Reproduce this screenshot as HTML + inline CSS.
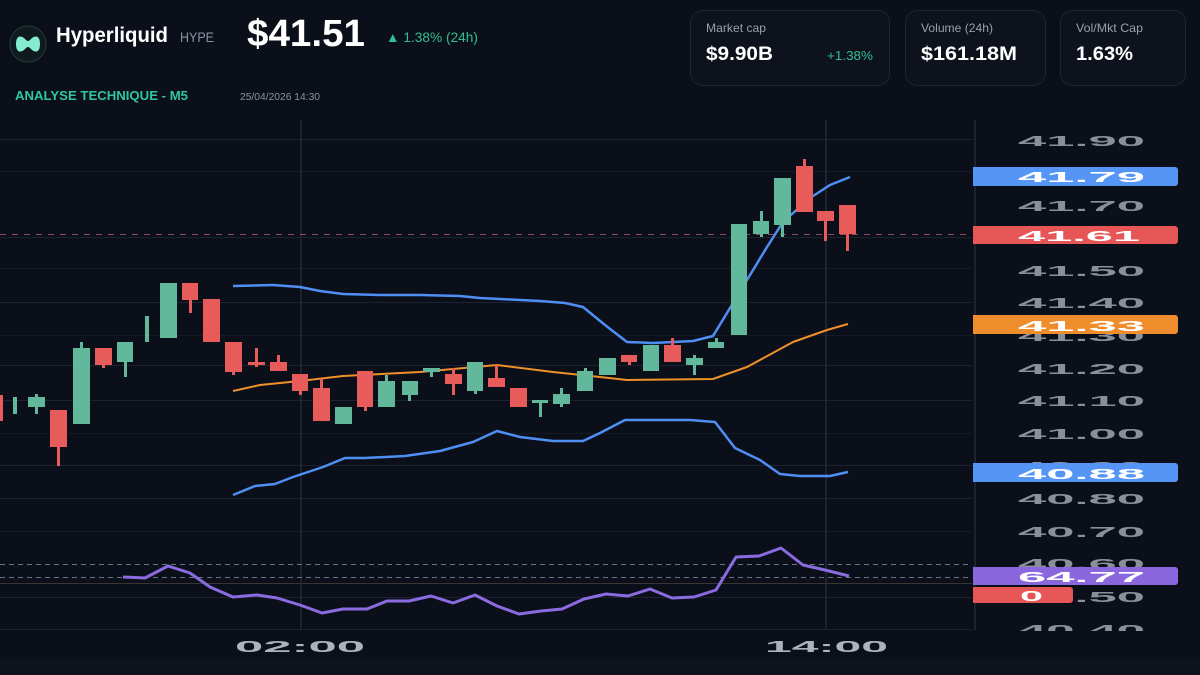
<!DOCTYPE html>
<html><head><meta charset="utf-8"><style>
html,body{margin:0;padding:0;background:#0b0f19;}
svg{display:block;}
text{font-family:"Liberation Sans",sans-serif;}
</style></head><body>
<svg width="1200" height="675" viewBox="0 0 1200 675" xmlns="http://www.w3.org/2000/svg">
<rect width="1200" height="675" fill="#0b0f19"/>
<rect y="658" width="1200" height="17" fill="#0d121c"/>

<!-- Header -->
<circle cx="28" cy="44" r="18" fill="#0e1a1e" stroke="#23403a" stroke-width="1"/>
<path d="M16 44 C16 36 20 35 24 38 C26 40 27 41 28 41 C29 41 30 40 32 38 C36 35 40 36 40 44 C40 52 36 53 32 50 C30 48 29 47 28 47 C27 47 26 48 24 50 C20 53 16 52 16 44 Z" fill="#86ecd0"/>
<text x="56" y="42" font-size="21" font-weight="bold" fill="#ffffff" textLength="112" lengthAdjust="spacingAndGlyphs">Hyperliquid</text>
<text x="180" y="42" font-size="13.5" fill="#8b93a1" textLength="34" lengthAdjust="spacingAndGlyphs">HYPE</text>
<text x="247" y="46" font-size="38" font-weight="bold" fill="#ffffff" textLength="118" lengthAdjust="spacingAndGlyphs">$41.51</text>
<text x="386" y="42" font-size="13.5" fill="#2fc08f" textLength="92" lengthAdjust="spacingAndGlyphs">▲ 1.38% (24h)</text>
<text x="15" y="100" font-size="13" font-weight="bold" fill="#2ec7a0" textLength="173" lengthAdjust="spacingAndGlyphs">ANALYSE TECHNIQUE - M5</text>
<text x="240" y="100" font-size="10" fill="#8d929b" textLength="80" lengthAdjust="spacingAndGlyphs">25/04/2026 14:30</text>

<!-- Cards -->
<rect x="690.5" y="10.5" width="199" height="75" rx="12" fill="#0d121d" stroke="#1e2532"/>
<text x="706" y="32" font-size="12" fill="#9aa0aa" textLength="60" lengthAdjust="spacingAndGlyphs">Market cap</text>
<text x="706" y="60" font-size="19" font-weight="bold" fill="#ffffff" textLength="67" lengthAdjust="spacingAndGlyphs">$9.90B</text>
<text x="827" y="60" font-size="13" fill="#2fc08f" textLength="46" lengthAdjust="spacingAndGlyphs">+1.38%</text>
<rect x="905.5" y="10.5" width="140" height="75" rx="12" fill="#0d121d" stroke="#1e2532"/>
<text x="921" y="32" font-size="12" fill="#9aa0aa" textLength="72" lengthAdjust="spacingAndGlyphs">Volume (24h)</text>
<text x="921" y="60" font-size="19" font-weight="bold" fill="#ffffff" textLength="96" lengthAdjust="spacingAndGlyphs">$161.18M</text>
<rect x="1060.5" y="10.5" width="125" height="75" rx="12" fill="#0d121d" stroke="#1e2532"/>
<text x="1076" y="32" font-size="12" fill="#9aa0aa" textLength="67" lengthAdjust="spacingAndGlyphs">Vol/Mkt Cap</text>
<text x="1076" y="60" font-size="19" font-weight="bold" fill="#ffffff" textLength="57" lengthAdjust="spacingAndGlyphs">1.63%</text>

<!-- Grid -->
<g stroke="#1c2230" stroke-width="1">
<line x1="0" y1="139.5" x2="972" y2="139.5"/>
<line x1="0" y1="237.5" x2="972" y2="237.5"/>
<line x1="0" y1="302.5" x2="972" y2="302.5"/>
<line x1="0" y1="365.5" x2="972" y2="365.5"/>
<line x1="0" y1="400.5" x2="972" y2="400.5"/>
<line x1="0" y1="465.5" x2="972" y2="465.5"/>
<line x1="0" y1="498.5" x2="972" y2="498.5"/>
<line x1="0" y1="597.5" x2="972" y2="597.5"/>
<line x1="0" y1="629.5" x2="972" y2="629.5"/>
</g>
<g stroke="#141a26" stroke-width="1">
<line x1="0" y1="171.5" x2="972" y2="171.5"/>
<line x1="0" y1="268.5" x2="972" y2="268.5"/>
<line x1="0" y1="335.5" x2="972" y2="335.5"/>
<line x1="0" y1="433.5" x2="972" y2="433.5"/>
<line x1="0" y1="531.5" x2="972" y2="531.5"/>
</g>
<line x1="0" y1="583.5" x2="972" y2="583.5" stroke="#3a3530" stroke-width="1"/>
<g stroke="#232a38" stroke-width="1.5">
<line x1="301" y1="120" x2="301" y2="630"/>
<line x1="826" y1="120" x2="826" y2="630"/>
</g>
<line x1="975" y1="120" x2="975" y2="630" stroke="#222937" stroke-width="1.5"/>

<!-- RSI dashed levels -->
<g stroke="#6b7282" stroke-width="1" stroke-dasharray="5 4">
<line x1="0" y1="564.5" x2="972" y2="564.5"/>
<line x1="0" y1="577.5" x2="972" y2="577.5"/>
</g>

<!-- current price dashed -->
<line x1="0" y1="234.5" x2="972" y2="234.5" stroke="#b0606a" stroke-width="1" stroke-dasharray="6 6" opacity="0.8"/>

<!-- Bollinger bands -->
<polyline fill="none" stroke="#4f8ff4" stroke-width="2.5" stroke-linejoin="round" points="233,286 273,285 300,287 320,291 343,294 380,295 420,295 460,296 480,298 500,299 540,301 565,303 583,307 605,325 627,342 653,343 693,341 713,336 727,313 747,280 767,247 783,222 810,198 830,185 850,177"/>
<polyline fill="none" stroke="#4f8ff4" stroke-width="2.5" stroke-linejoin="round" points="233,495 255,486 275,484 293,477 323,467 345,458 365,458 405,456 440,451 473,442 497,431 520,437 553,441 583,441 600,433 625,420 650,420 690,420 715,422 735,448 760,460 780,474 800,476 830,476 848,472"/>
<polyline fill="none" stroke="#f0902a" stroke-width="2" stroke-linejoin="round" points="233,391 260,385 300,381 343,376 420,372 497,365 553,372 600,377 627,380 713,379 747,367 793,342 827,330 848,324"/>

<!-- Candles -->
<g fill="#e85b5b">
<rect x="-14" y="395" width="17" height="26"/>
<rect x="50" y="410" width="17" height="37"/><rect x="57" y="447" width="3" height="19"/>
<rect x="95" y="348" width="17" height="17"/><rect x="102" y="365" width="3" height="3"/>
<rect x="182" y="283" width="16" height="17"/><rect x="189" y="300" width="3" height="13"/>
<rect x="203" y="299" width="17" height="43"/>
<rect x="225" y="342" width="17" height="30"/><rect x="232" y="372" width="3" height="3"/>
<rect x="248" y="362" width="17" height="3"/><rect x="255" y="348" width="3" height="19"/>
<rect x="270" y="362" width="17" height="9"/><rect x="277" y="355" width="3" height="7"/>
<rect x="292" y="374" width="16" height="17"/><rect x="299" y="391" width="3" height="4"/>
<rect x="313" y="388" width="17" height="33"/><rect x="320" y="379" width="3" height="9"/>
<rect x="357" y="371" width="16" height="36"/><rect x="364" y="407" width="3" height="4"/>
<rect x="445" y="374" width="17" height="10"/><rect x="452" y="368" width="3" height="27"/>
<rect x="488" y="378" width="17" height="9"/><rect x="495" y="365" width="3" height="13"/>
<rect x="510" y="388" width="17" height="19"/>
<rect x="621" y="355" width="16" height="7"/><rect x="628" y="362" width="3" height="3"/>
<rect x="664" y="345" width="17" height="17"/><rect x="671" y="338" width="3" height="7"/>
<rect x="796" y="166" width="17" height="46"/><rect x="803" y="159" width="3" height="7"/>
<rect x="817" y="211" width="17" height="10"/><rect x="824" y="221" width="3" height="20"/>
<rect x="839" y="205" width="17" height="29"/><rect x="846" y="234" width="3" height="17"/>
</g>
<g fill="#62b89b">
<rect x="13" y="397" width="4" height="17"/>
<rect x="28" y="397" width="17" height="10"/><rect x="35" y="394" width="3" height="20"/>
<rect x="73" y="348" width="17" height="76"/><rect x="80" y="342" width="3" height="6"/>
<rect x="117" y="342" width="16" height="20"/><rect x="124" y="362" width="3" height="15"/>
<rect x="145" y="316" width="4" height="26"/>
<rect x="160" y="283" width="17" height="55"/>
<rect x="335" y="407" width="17" height="17"/>
<rect x="378" y="381" width="17" height="26"/><rect x="385" y="375" width="3" height="6"/>
<rect x="402" y="381" width="16" height="14"/><rect x="408" y="395" width="3" height="6"/>
<rect x="423" y="368" width="17" height="4"/><rect x="430" y="372" width="3" height="5"/>
<rect x="467" y="362" width="16" height="29"/><rect x="474" y="391" width="3" height="3"/>
<rect x="532" y="400" width="16" height="3"/><rect x="539" y="403" width="3" height="14"/>
<rect x="553" y="394" width="17" height="10"/><rect x="560" y="388" width="3" height="19"/>
<rect x="577" y="371" width="16" height="20"/><rect x="584" y="368" width="3" height="3"/>
<rect x="599" y="358" width="17" height="17"/>
<rect x="643" y="345" width="16" height="26"/>
<rect x="686" y="358" width="17" height="7"/><rect x="693" y="355" width="3" height="20"/>
<rect x="708" y="342" width="16" height="6"/><rect x="715" y="338" width="3" height="4"/>
<rect x="731" y="224" width="16" height="111"/>
<rect x="753" y="221" width="16" height="13"/><rect x="760" y="211" width="3" height="26"/>
<rect x="774" y="178" width="17" height="47"/><rect x="781" y="225" width="3" height="12"/>
</g>

<!-- RSI -->
<polyline fill="none" stroke="#8a6be0" stroke-width="3" stroke-linejoin="round" points="123,577 145,578 168,566 190,573 210,587 233,597 257,595 277,598 300,605 322,613 343,609 367,609 387,601 409,601 431,596 453,603 475,595 497,606 519,614 541,611 562,609 584,599 606,594 628,596 650,589 672,598 694,597 716,590 736,557 759,556 781,548 803,565 825,570 849,576"/>

<!-- Axis labels -->
<defs><clipPath id="ax"><rect x="976" y="120" width="224" height="511"/></clipPath></defs>
<g clip-path="url(#ax)" font-size="15" font-weight="bold" fill="#8a8f99">
<text x="1018" y="146" textLength="127" lengthAdjust="spacingAndGlyphs">41.90</text>
<text x="1018" y="211" textLength="127" lengthAdjust="spacingAndGlyphs">41.70</text>
<text x="1018" y="276" textLength="127" lengthAdjust="spacingAndGlyphs">41.50</text>
<text x="1018" y="308" textLength="127" lengthAdjust="spacingAndGlyphs">41.40</text>
<text x="1018" y="341" textLength="127" lengthAdjust="spacingAndGlyphs">41.30</text>
<text x="1018" y="374" textLength="127" lengthAdjust="spacingAndGlyphs">41.20</text>
<text x="1018" y="406" textLength="127" lengthAdjust="spacingAndGlyphs">41.10</text>
<text x="1018" y="439" textLength="127" lengthAdjust="spacingAndGlyphs">41.00</text>
<text x="1018" y="472" textLength="127" lengthAdjust="spacingAndGlyphs">40.90</text>
<text x="1018" y="504" textLength="127" lengthAdjust="spacingAndGlyphs">40.80</text>
<text x="1018" y="537" textLength="127" lengthAdjust="spacingAndGlyphs">40.70</text>
<text x="1018" y="569" textLength="127" lengthAdjust="spacingAndGlyphs">40.60</text>
<text x="1018" y="602" textLength="127" lengthAdjust="spacingAndGlyphs">40.50</text>
<text x="1018" y="635" textLength="127" lengthAdjust="spacingAndGlyphs">40.40</text>
</g>

<!-- Value boxes -->
<g font-size="15" font-weight="bold" fill="#ffffff">
<path d="M973 167 H1175 a3 3 0 0 1 3 3 V183 a3 3 0 0 1 -3 3 H973 Z" fill="#5595f5"/>
<text x="1018" y="182" textLength="127" lengthAdjust="spacingAndGlyphs">41.79</text>
<path d="M973 226 H1175 a3 3 0 0 1 3 3 V241 a3 3 0 0 1 -3 3 H973 Z" fill="#e65656"/>
<text x="1018" y="241" textLength="122" lengthAdjust="spacingAndGlyphs">41.61</text>
<path d="M973 315 H1175 a3 3 0 0 1 3 3 V331 a3 3 0 0 1 -3 3 H973 Z" fill="#ef8c2c"/>
<text x="1018" y="331" textLength="127" lengthAdjust="spacingAndGlyphs">41.33</text>
<path d="M973 463 H1175 a3 3 0 0 1 3 3 V479 a3 3 0 0 1 -3 3 H973 Z" fill="#5595f5"/>
<text x="1018" y="479" textLength="127" lengthAdjust="spacingAndGlyphs">40.88</text>
<path d="M973 567 H1175 a3 3 0 0 1 3 3 V582 a3 3 0 0 1 -3 3 H973 Z" fill="#8a67dc"/>
<text x="1018" y="582" textLength="127" lengthAdjust="spacingAndGlyphs">64.77</text>
<path d="M973 587 H1070 a3 3 0 0 1 3 3 V600 a3 3 0 0 1 -3 3 H973 Z" fill="#e65656"/>
<text x="1020" y="601" textLength="23" lengthAdjust="spacingAndGlyphs">0</text>
</g>

<!-- Time labels -->
<g font-size="16" font-weight="bold" fill="#aeb2ba">
<text x="235" y="652" textLength="130" lengthAdjust="spacingAndGlyphs">02:00</text>
<text x="765" y="652" textLength="123" lengthAdjust="spacingAndGlyphs">14:00</text>
</g>
</svg>
</body></html>
